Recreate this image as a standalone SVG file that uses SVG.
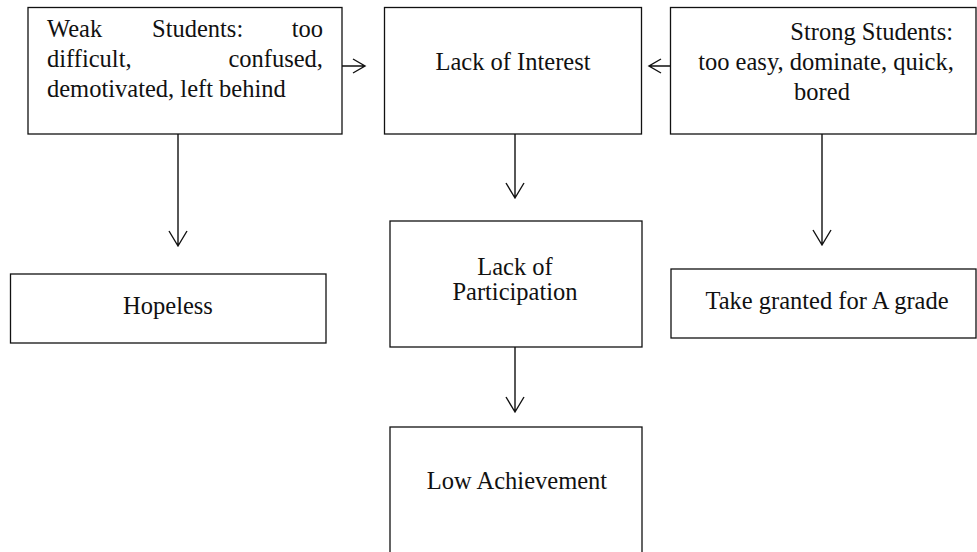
<svg xmlns="http://www.w3.org/2000/svg" width="977" height="552" viewBox="0 0 977 552">
<style>
.box{fill:#fff;stroke:#111;stroke-width:1.3}
text{font-family:"Liberation Serif","Times New Roman",serif;font-size:24.5px;fill:#111}
.c{text-anchor:middle}
.e{text-anchor:end}
.ln{fill:none;stroke:#111;stroke-width:1.4}
</style>
<rect width="977" height="552" fill="#fff"/>
<g id="weak">
<rect class="box" x="28" y="7.5" width="314" height="126.5"/>
<text x="47" y="37">Weak</text>
<text x="152" y="37">Students:</text>
<text class="e" x="323" y="37">too</text>
<text x="47" y="67">difficult,</text>
<text class="e" x="323" y="67">confused,</text>
<text x="47" y="97">demotivated, left behind</text>
</g>
<g id="interest">
<rect class="box" x="384.5" y="7.5" width="257" height="126.5"/>
<text class="c" x="513" y="70">Lack of Interest</text>
</g>
<g id="strong">
<rect class="box" x="670.5" y="7.5" width="305.5" height="126.5"/>
<text class="e" x="953" y="40">Strong Students:</text>
<text class="c" x="826" y="70">too easy, dominate, quick,</text>
<text class="c" x="822" y="100">bored</text>
</g>
<g id="hopeless">
<rect class="box" x="10.5" y="274" width="315.5" height="69"/>
<text class="c" x="168" y="314">Hopeless</text>
</g>
<g id="participation">
<rect class="box" x="390" y="221" width="252" height="126"/>
<text class="c" x="515" y="275">Lack of</text>
<text class="c" x="515" y="300">Participation</text>
</g>
<g id="takegranted">
<rect class="box" x="671" y="269" width="305" height="69"/>
<text class="c" x="827" y="309">Take granted for A grade</text>
</g>
<g id="low">
<rect class="box" x="390" y="427" width="252" height="135"/>
<text class="c" x="517" y="489">Low Achievement</text>
</g>
<g id="connectors">
<path class="ln" d="M342 66H365M353 59L365 66L353 73"/>
<path class="ln" d="M670.5 66H649M661 59L649 66L661 73"/>
<path class="ln" d="M178 134V246M169 231L178 246L187 231"/>
<path class="ln" d="M515 134V198M506 183L515 198L524 183"/>
<path class="ln" d="M822 134V245M813 230L822 245L831 230"/>
<path class="ln" d="M515 347V412M506 397L515 412L524 397"/>
</g>
</svg>
